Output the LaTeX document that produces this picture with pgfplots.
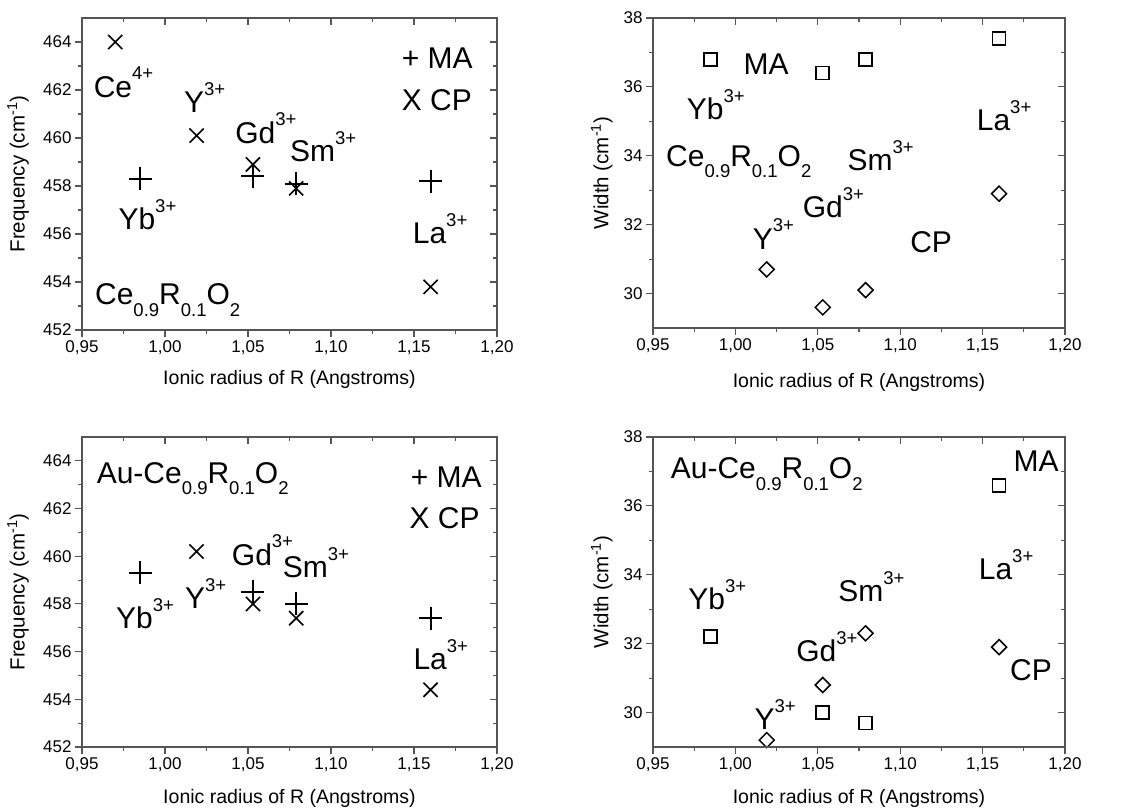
\documentclass[border=0pt]{standalone}
\usepackage{fontspec}
\setmainfont{Liberation Sans}
\usepackage{pgfplots}
\pgfplotsset{compat=1.18}
\definecolor{axgray}{RGB}{85,85,85}
\newcommand{\up}[1]{\raisebox{0.58em}{\fontsize{18.5bp}{18.5bp}\selectfont #1}}
\newcommand{\dn}[1]{\raisebox{-0.38em}{\fontsize{18.5bp}{18.5bp}\selectfont #1}}
\newcommand{\bigfont}{\fontsize{30bp}{30bp}\selectfont}
\tikzset{lab/.style={anchor=base west, inner sep=0pt, font=\bigfont}}
\pgfplotsset{
  base/.style={scale only axis, clip=false,
    xmin=0.95, xmax=1.20, xtick={0.95,1.00,...,1.21},
    minor x tick num=1, minor y tick num=1,
    axis line style={axgray, line width=1.3bp},
    every tick/.style={axgray, line width=1.1bp},
    major tick length=7bp, minor tick length=4bp,
    /pgf/number format/assume math mode=true,
    ticklabel style={font=\fontsize{17bp}{17bp}\selectfont, black},
    label style={font=\fontsize{19.5bp}{19.5bp}\selectfont},
    ylabel style={font=\fontsize{20.5bp}{20.5bp}\selectfont},
  },
  main/.style={base, xtick pos=left, ytick pos=left, tick align=outside,
    xticklabel style={/pgf/number format/.cd, fixed, fixed zerofill, precision=2, use comma},
    yticklabel style={/pgf/number format/.cd, fixed, precision=0},
    xlabel={Ionic radius of R (Angstroms)},
  },
  over/.style={base, xtick pos=right, ytick pos=right, tick align=inside,
    xticklabels={}, yticklabels={}},
  freq/.style={ymin=452, ymax=465, ytick={452,454,...,464}},
  wid/.style={ymin=29, ymax=38, ytick={30,32,...,38}},
  pl/.style={only marks, mark=+, mark size=11.5bp, line width=2bp, black},
  cr/.style={only marks, mark=x, mark size=10bp, line width=1.6bp, black},
  sqm/.style={only marks, mark=square, mark size=6.5bp, line width=1.7bp, black},
  dm/.style={only marks, mark=square, mark size=5.3bp, line width=1.5bp, black, mark options={rotate=45}},
}
\begin{document}
\begin{tikzpicture}
\useasboundingbox (0bp,0bp) rectangle (1124bp,810bp);
% ---------- Panel 1 ----------
\begin{axis}[main, freq, at={(82bp,480bp)}, anchor=south west, width=415bp, height=312bp,
  ylabel={Frequency (cm\textsuperscript{-1})},
  ylabel style={at={(axis description cs:-0.154,0.5)}, anchor=center},
  xlabel style={at={(axis description cs:0.5,-0.16)}, anchor=center}]
\addplot[pl] coordinates {(0.985,458.3) (1.053,458.4) (1.079,458.1) (1.16,458.2)};
\addplot[cr] coordinates {(0.97,464.0) (1.019,460.1) (1.053,458.9) (1.079,457.9) (1.16,453.8)};
\node[lab] at (axis cs:0.957,461.7) {Ce\up{4+}};
\node[lab] at (axis cs:1.0114,461.06) {Y\up{3+}};
\node[lab] at (axis cs:1.0422,459.78) {Gd\up{3+}};
\node[lab] at (axis cs:1.0753,459.0) {Sm\up{3+}};
\node[lab] at (axis cs:0.9719,456.18) {Yb\up{3+}};
\node[lab] at (axis cs:1.1492,455.6) {La\up{3+}};
\node[lab] at (axis cs:0.9578,453.05) {Ce\dn{0.9}R\dn{0.1}O\dn{2}};
\node[lab] at (axis cs:1.1426,462.9) {+ MA};
\node[lab] at (axis cs:1.1426,461.16) {X CP};
\end{axis}
\begin{axis}[over, freq, at={(82bp,480bp)}, anchor=south west, width=415bp, height=312bp]
\end{axis}
% ---------- Panel 2 ----------
\begin{axis}[main, wid, at={(653bp,482bp)}, anchor=south west, width=412bp, height=310bp,
  ylabel={Width (cm\textsuperscript{-1})},
  ylabel style={at={(axis description cs:-0.124,0.5)}, anchor=center},
  xlabel style={at={(axis description cs:0.5,-0.177)}, anchor=center}]
\addplot[sqm] coordinates {(0.985,36.8) (1.053,36.4) (1.079,36.8) (1.16,37.4)};
\addplot[dm] coordinates {(1.019,30.7) (1.053,29.6) (1.079,30.1) (1.16,32.9)};
\node[lab] at (axis cs:1.0048,36.36) {MA};
\node[lab] at (axis cs:0.9704,35.04) {Yb\up{3+}};
\node[lab] at (axis cs:0.9579,33.70) {Ce\dn{0.9}R\dn{0.1}O\dn{2}};
\node[lab] at (axis cs:1.0679,33.56) {Sm\up{3+}};
\node[lab] at (axis cs:1.0408,32.21) {Gd\up{3+}};
\node[lab] at (axis cs:1.0105,31.29) {Y\up{3+}};
\node[lab] at (axis cs:1.106,31.18) {CP};
\node[lab] at (axis cs:1.1464,34.72) {La\up{3+}};
\end{axis}
\begin{axis}[over, wid, at={(653bp,482bp)}, anchor=south west, width=412bp, height=310bp]
\end{axis}
% ---------- Panel 3 ----------
\begin{axis}[main, freq, at={(82bp,63bp)}, anchor=south west, width=415bp, height=310bp,
  ylabel={Frequency (cm\textsuperscript{-1})},
  ylabel style={at={(axis description cs:-0.154,0.5)}, anchor=center},
  xlabel style={at={(axis description cs:0.5,-0.165)}, anchor=center}]
\addplot[pl] coordinates {(0.985,459.3) (1.053,458.5) (1.079,458.0) (1.16,457.4)};
\addplot[cr] coordinates {(1.019,460.2) (1.053,458.0) (1.079,457.4) (1.16,454.4)};
\node[lab] at (axis cs:0.9588,463.05) {Au-Ce\dn{0.9}R\dn{0.1}O\dn{2}};
\node[lab] at (axis cs:1.148,462.88) {+ MA};
\node[lab] at (axis cs:1.1472,461.16) {X CP};
\node[lab] at (axis cs:1.0402,459.62) {Gd\up{3+}};
\node[lab] at (axis cs:1.0709,459.1) {Sm\up{3+}};
\node[lab] at (axis cs:1.012,457.8) {Y\up{3+}};
\node[lab] at (axis cs:0.9705,456.97) {Yb\up{3+}};
\node[lab] at (axis cs:1.1496,455.24) {La\up{3+}};
\end{axis}
\begin{axis}[over, freq, at={(82bp,63bp)}, anchor=south west, width=415bp, height=310bp]
\end{axis}
% ---------- Panel 4 ----------
\begin{axis}[main, wid, at={(653bp,63bp)}, anchor=south west, width=412bp, height=310bp,
  ylabel={Width (cm\textsuperscript{-1})},
  ylabel style={at={(axis description cs:-0.124,0.5)}, anchor=center},
  xlabel style={at={(axis description cs:0.5,-0.165)}, anchor=center}]
\addplot[sqm] coordinates {(0.985,32.2) (1.053,30.0) (1.079,29.7) (1.16,36.6)};
\addplot[dm] coordinates {(1.019,29.2) (1.053,30.8) (1.079,32.3) (1.16,31.9)};
\node[lab] at (axis cs:0.9607,36.79) {Au-Ce\dn{0.9}R\dn{0.1}O\dn{2}};
\node[lab] at (axis cs:1.1687,36.99) {MA};
\node[lab] at (axis cs:1.1476,33.86) {La\up{3+}};
\node[lab] at (axis cs:1.0624,33.22) {Sm\up{3+}};
\node[lab] at (axis cs:0.9714,32.98) {Yb\up{3+}};
\node[lab] at (axis cs:1.0368,31.48) {Gd\up{3+}};
\node[lab] at (axis cs:1.1666,30.93) {CP};
\node[lab] at (axis cs:1.0115,29.50) {Y\up{3+}};
\end{axis}
\begin{axis}[over, wid, at={(653bp,63bp)}, anchor=south west, width=412bp, height=310bp]
\end{axis}
\end{tikzpicture}
\end{document}
